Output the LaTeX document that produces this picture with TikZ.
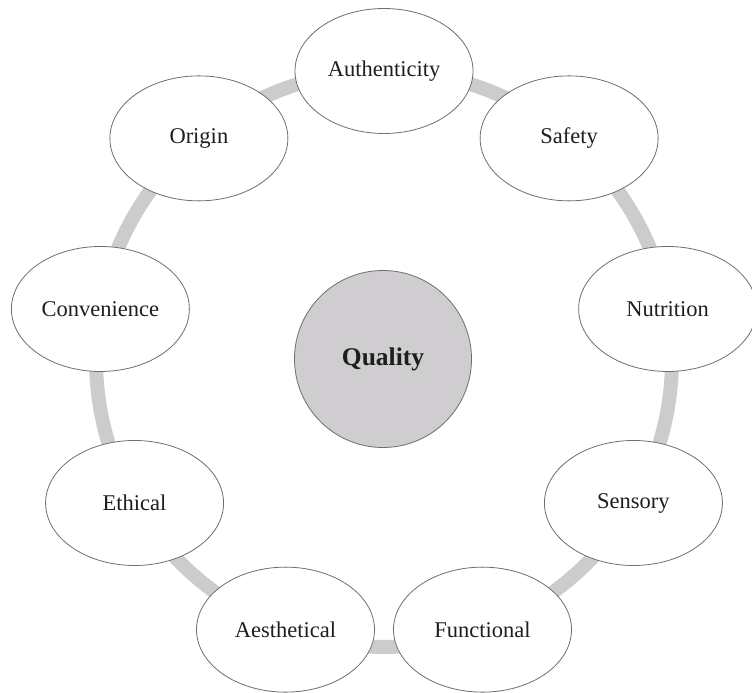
\documentclass[tikz,border=0pt]{standalone}
\usepackage{fontspec}
\setmainfont{Liberation Serif}
\usetikzlibrary{shapes.geometric}
\definecolor{ringgray}{RGB}{204,204,204}
\definecolor{edgegray}{RGB}{110,110,110}
\definecolor{hubfill}{RGB}{207,205,207}
\definecolor{inkcol}{RGB}{30,30,30}
\tikzset{
  facet/.style={ellipse, draw=edgegray, line width=0.8pt, fill=white,
    minimum width=178pt, minimum height=125pt, inner sep=0pt,
    text=inkcol, font=\fontsize{22.5}{25}\selectfont},
  core/.style={circle, draw=edgegray, line width=0.8pt, fill=hubfill,
    minimum size=177pt, inner sep=0pt, text=inkcol,
    font=\fontsize{25.5}{28}\selectfont\bfseries},
  ring/.style={draw=ringgray, line width=14pt}
}
\begin{document}
\begin{tikzpicture}
\useasboundingbox (0,0) rectangle (752pt,693pt);
\coordinate (hub) at (384pt,334pt);
% grey cycle band behind the facets
\draw[ring] (hub) circle[radius=288pt];
\begin{scope}[shift={(hub)}]
  \node[facet] (auth) at (90:288pt)   {Authenticity};
  \node[facet] (safe) at (50:288pt)   {Safety};
  \node[facet] (nutr) at (10:288pt)   {Nutrition};
  \node[facet] (sens) at (-30:288pt)  {Sensory};
  \node[facet] (func) at (-70:288pt)  {Functional};
  \node[facet] (aest) at (-110:288pt) {Aesthetical};
  \node[facet] (ethi) at (-150:288pt) {Ethical};
  \node[facet] (conv) at (170:288pt)  {Convenience};
  \node[facet] (orig) at (130:288pt)  {Origin};
  \node[core] (qual) at (-1pt,0pt) {Quality};
\end{scope}
\end{tikzpicture}
\end{document}
